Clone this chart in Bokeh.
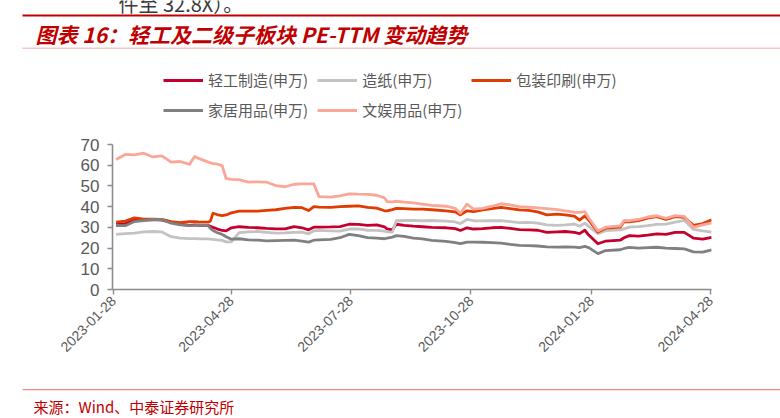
import math
import pandas as pd
from bokeh.plotting import figure
from bokeh.layouts import column
from bokeh.models import (ColumnDataSource, Legend, LegendItem, Label, BoxAnnotation,
                          FixedTicker, DatetimeTickFormatter, Range1d)
from bokeh.embed import file_html
from bokeh.resources import INLINE

# ---------------- data ----------------
DATES = [
    "2023-01-30", "2023-02-06", "2023-02-13", "2023-02-20", "2023-02-27", "2023-03-06",
    "2023-03-13", "2023-03-20", "2023-03-27", "2023-03-31", "2023-04-03", "2023-04-10",
    "2023-04-12", "2023-04-14", "2023-04-17", "2023-04-21", "2023-04-24", "2023-04-28",
    "2023-05-04", "2023-05-11", "2023-05-18", "2023-05-25", "2023-06-01", "2023-06-08",
    "2023-06-15", "2023-06-21", "2023-06-26", "2023-06-30", "2023-07-04", "2023-07-13",
    "2023-07-20", "2023-07-27", "2023-08-03", "2023-08-10", "2023-08-17", "2023-08-23",
    "2023-08-25", "2023-08-29", "2023-09-01", "2023-09-07", "2023-09-14", "2023-09-21",
    "2023-09-28", "2023-10-09", "2023-10-16", "2023-10-20", "2023-10-25", "2023-10-30",
    "2023-11-06", "2023-11-13", "2023-11-20", "2023-11-27", "2023-12-04", "2023-12-11",
    "2023-12-18", "2023-12-25", "2024-01-02", "2024-01-08", "2024-01-15", "2024-01-19",
    "2024-01-23", "2024-01-26", "2024-02-02", "2024-02-08", "2024-02-19", "2024-02-22",
    "2024-02-26", "2024-03-04", "2024-03-11", "2024-03-18", "2024-03-25", "2024-04-01",
    "2024-04-08", "2024-04-15", "2024-04-22", "2024-04-29",
]

LIGHT_INDUSTRY = [  # 轻工制造(申万)
    31.5, 31.8, 33.5, 33.5, 33.8, 33.5, 32.5, 31.5, 31.0, 31.2, 31.0, 31.0,
    30.5, 30.0, 29.3, 28.5, 28.3, 29.8, 30.3, 30.0, 29.8, 29.5, 29.3, 29.3,
    30.3, 29.8, 28.8, 30.1, 30.1, 30.2, 30.4, 31.5, 31.4, 31.0, 31.2, 30.2,
    29.3, 28.8, 31.5, 31.0, 30.6, 30.3, 30.0, 29.8, 29.4, 28.5, 29.8, 29.2,
    29.4, 29.8, 30.0, 29.5, 28.9, 28.8, 28.6, 27.6, 27.8, 28.0, 27.6, 27.0,
    28.6, 26.3, 22.1, 23.4, 23.8, 25.0, 26.0, 25.8, 26.2, 26.9, 26.6, 27.6,
    27.6, 24.8, 24.3, 25.2,
]
PAPER = [  # 造纸(申万)
    26.6, 27.0, 27.2, 27.8, 28.0, 27.8, 25.5, 24.8, 24.6, 24.6, 24.5, 24.4,
    24.3, 24.2, 24.0, 23.7, 23.0, 23.0, 27.5, 27.8, 28.0, 27.6, 27.2, 27.3,
    27.6, 27.7, 26.9, 28.3, 28.5, 28.3, 28.2, 29.2, 29.3, 28.6, 28.5, 28.2,
    27.8, 27.7, 33.2, 33.3, 33.3, 33.2, 33.3, 33.0, 32.6, 31.8, 33.8, 33.2,
    33.1, 33.2, 33.2, 32.8, 32.3, 32.4, 32.0, 31.2, 31.0, 31.2, 31.6, 30.5,
    32.0, 30.5, 26.9, 28.4, 28.8, 29.3, 30.1, 30.4, 30.8, 31.4, 31.6, 32.5,
    33.4, 29.0, 28.3, 27.7,
]
PACKAGING = [  # 包装印刷(申万)
    32.5, 33.0, 34.6, 34.0, 34.0, 33.8, 32.8, 32.3, 32.8, 32.8, 32.6, 32.5,
    33.0, 36.8, 36.2, 35.7, 36.0, 37.0, 37.8, 37.8, 37.8, 38.2, 38.5, 39.2,
    39.6, 39.5, 38.1, 40.0, 39.8, 39.6, 40.0, 40.2, 40.4, 39.6, 39.3, 38.0,
    38.0, 38.6, 39.2, 39.0, 38.8, 38.8, 38.5, 38.0, 37.5, 36.0, 38.0, 37.6,
    38.4, 39.0, 39.6, 39.0, 38.4, 38.2, 37.5, 36.0, 36.4, 36.0, 35.4, 33.5,
    35.5, 33.5, 27.7, 29.6, 30.1, 32.8, 32.6, 33.2, 34.5, 35.2, 33.8, 35.2,
    34.8, 31.0, 31.8, 33.6,
]
HOME = [  # 家居用品(申万)
    30.9, 30.8, 32.8, 33.3, 33.8, 33.8, 32.0, 31.2, 30.8, 31.0, 31.2, 31.0,
    29.5, 28.5, 27.5, 26.6, 25.5, 24.3, 24.5, 24.0, 23.8, 23.5, 23.6, 23.7,
    23.8, 23.3, 22.9, 23.8, 24.0, 24.2, 25.0, 26.6, 26.0, 25.0, 24.8, 24.5,
    24.8, 25.3, 26.0, 25.6, 24.8, 24.4, 23.7, 23.2, 22.6, 22.1, 22.9, 22.9,
    22.8, 22.6, 22.4, 21.8, 21.3, 21.2, 21.0, 20.6, 20.5, 20.6, 20.5, 20.2,
    20.8, 20.2, 17.3, 18.8, 19.2, 19.8, 20.3, 20.0, 20.2, 20.4, 20.0, 19.8,
    19.6, 18.2, 18.0, 19.2,
]
STATIONERY = [  # 文娱用品(申万)
    62.8, 65.2, 65.0, 65.8, 64.0, 64.5, 61.5, 61.8, 60.4, 64.2, 63.3, 61.6,
    61.2, 60.8, 60.6, 59.8, 53.6, 53.2, 53.0, 51.8, 52.0, 51.8, 50.2, 49.6,
    50.8, 51.0, 51.0, 51.0, 44.8, 44.6, 45.2, 46.2, 46.0, 45.9, 45.5, 44.2,
    42.4, 42.3, 42.6, 42.2, 41.8, 41.2, 40.6, 40.2, 39.2, 36.8, 41.2, 38.8,
    39.2, 40.2, 41.4, 40.8, 40.0, 39.7, 39.4, 39.0, 38.6, 38.0, 37.3, 37.2,
    37.6, 34.5, 28.3, 30.1, 30.7, 33.3, 33.2, 33.8, 35.0, 35.6, 34.4, 35.7,
    35.3, 30.0, 31.2, 32.2,
]

SERIES_NAMES = ["轻工制造(申万)", "造纸(申万)", "包装印刷(申万)", "家居用品(申万)", "文娱用品(申万)"]
SERIES_COLORS = ["#C5002E", "#C3C3C3", "#E03B00", "#808080", "#FBA797"]
X_TICK_LABELS = ["2023-01-28", "2023-04-28", "2023-07-28", "2023-10-28", "2024-01-28", "2024-04-28"]
Y_TICKS = [0, 10, 20, 30, 40, 50, 60, 70]

TITLE = "图表 16：轻工及二级子板块 PE-TTM 变动趋势"
SOURCE = "来源：Wind、中泰证券研究所"
TOP_FRAGMENT = "件至 32.8X）。"

# ---------------- layout constants (canvas pixels) ----------------
W = 780
TOP_H = 135            # header strip: rules, title, legend
MID_TOP, MID_BOT = 135, 380
BOT_H = 418 - MID_BOT  # footer strip: rule + source
FL, FR, FT, FB = 112, 711, 144, 289   # chart frame edges in page pixels
LINE_W = 2.8
AXIS_COLOR = "#8C8C8C"
LABEL_COLOR = "#595959"


def no_align(f):
    if "frame_align" in f.properties():
        f.frame_align = False
    return f


def strip(height, y0):
    """A figure whose frame fills the whole canvas, with page-pixel coordinates."""
    f = figure(width=W, height=height, output_backend="svg", toolbar_location=None,
               x_axis_location=None, y_axis_location=None,
               x_range=Range1d(0, W), y_range=Range1d(y0 + height, y0),
               min_border=0)
    f.outline_line_color = None
    f.grid.visible = False
    f.background_fill_color = "white"
    f.border_fill_color = "white"
    return no_align(f)


def rule(f, y_top, y_bot, color, x0=22, x1=W):
    f.add_layout(BoxAnnotation(left=x0, right=x1, top=y_top, bottom=y_bot,
                               fill_color=color, fill_alpha=1, line_alpha=0))


dates = pd.to_datetime(DATES)
src = ColumnDataSource(dict(x=dates, s0=LIGHT_INDUSTRY, s1=PAPER, s2=PACKAGING,
                            s3=HOME, s4=STATIONERY))

# ---------------- header ----------------
head = strip(TOP_H, 0)
rule(head, 14, 16, "#C00000")
rule(head, 47, 48.5, "#F3C6C6")
head.add_layout(Label(x=118, y=3, text=TOP_FRAGMENT,
                      text_font="Noto Sans CJK SC", text_font_size="20px", text_color="#3A3A3A",
                      text_baseline="alphabetic", text_align="left"))
head.add_layout(Label(x=35, y=33, text=TITLE,
                      text_font="Noto Sans CJK SC", text_font_size="21px", text_color="#C00000",
                      text_font_style="bold italic", text_baseline="middle", text_align="left"))

# legend keys: hidden copies of the series (the header has no room to draw them)
key_renderers = []
for i, c in enumerate(SERIES_COLORS):
    r = head.line("x", f"s{i}", source=src, line_color=c, line_width=LINE_W)
    r.visible = False
    key_renderers.append(r)
legend = Legend(items=[LegendItem(label=n, renderers=[r]) for n, r in zip(SERIES_NAMES, key_renderers)],
                orientation="horizontal", ncols=3,
                location=(163, TOP_H - 120),
                glyph_width=40, glyph_height=20, label_height=20, label_standoff=5, spacing=9,
                padding=0, margin=0,
                label_text_font="Noto Sans CJK SC", label_text_font_size="15px",
                label_text_color=LABEL_COLOR,
                inactive_fill_alpha=0,
                border_line_alpha=0, background_fill_alpha=0)
head.add_layout(legend, "center")

# ---------------- chart ----------------
tick_dates = pd.to_datetime(X_TICK_LABELS)
first, last = tick_dates[0], tick_dates[-1]
px_per_day = (FR - FL - 2) / (last - first).days
pad = pd.Timedelta(days=1.0 / px_per_day)

p = figure(width=W, height=MID_BOT - MID_TOP, output_backend="svg", toolbar_location=None,
           x_axis_type="datetime",
           x_range=Range1d(first - pad, last + pad),
           y_range=Range1d(0, 70),
           min_border_left=FL, min_border_right=W - FR,
           min_border_top=FT - MID_TOP, min_border_bottom=MID_BOT - FB)
no_align(p)
p.outline_line_color = None
p.xgrid.visible = False
p.ygrid.visible = False
p.background_fill_color = "white"
p.border_fill_color = "white"

for i, color in enumerate(SERIES_COLORS):
    p.line("x", f"s{i}", source=src, line_color=color, line_width=LINE_W, line_join="round")

for ax in (p.xaxis[0], p.yaxis[0]):
    ax.axis_line_color = AXIS_COLOR
    ax.axis_line_width = 1.6
    ax.major_tick_line_color = AXIS_COLOR
    ax.major_tick_line_width = 1.4
    ax.major_tick_in = 0
    ax.major_tick_out = 5
    ax.minor_tick_line_color = None
    ax.major_label_text_color = LABEL_COLOR
    ax.major_label_text_font = "Liberation Sans"

p.yaxis.ticker = FixedTicker(ticks=Y_TICKS)
p.yaxis.major_label_text_font_size = "17px"
p.yaxis.major_label_standoff = 8

p.xaxis.ticker = FixedTicker(ticks=[t.value / 1e6 for t in tick_dates])
fmt = "%Y-%m-%d"
p.xaxis.formatter = DatetimeTickFormatter(days=fmt, months=fmt, years=fmt, hours=fmt,
                                          minutes=fmt, seconds=fmt, milliseconds=fmt)
p.xaxis.major_label_orientation = math.pi / 4
p.xaxis.major_label_text_font_size = "14px"
p.xaxis.major_label_standoff = 4

# ---------------- footer ----------------
foot = strip(BOT_H, MID_BOT)
rule(foot, 388.5, 389.7, "#EE8A8A")
foot.add_layout(Label(x=33, y=406, text=SOURCE,
                      text_font="Noto Sans CJK SC", text_font_size="15px", text_color="#C00000",
                      text_baseline="middle", text_align="left"))

layout = column(head, p, foot, spacing=0)
open("out.html", "w").write(file_html(layout, INLINE))
